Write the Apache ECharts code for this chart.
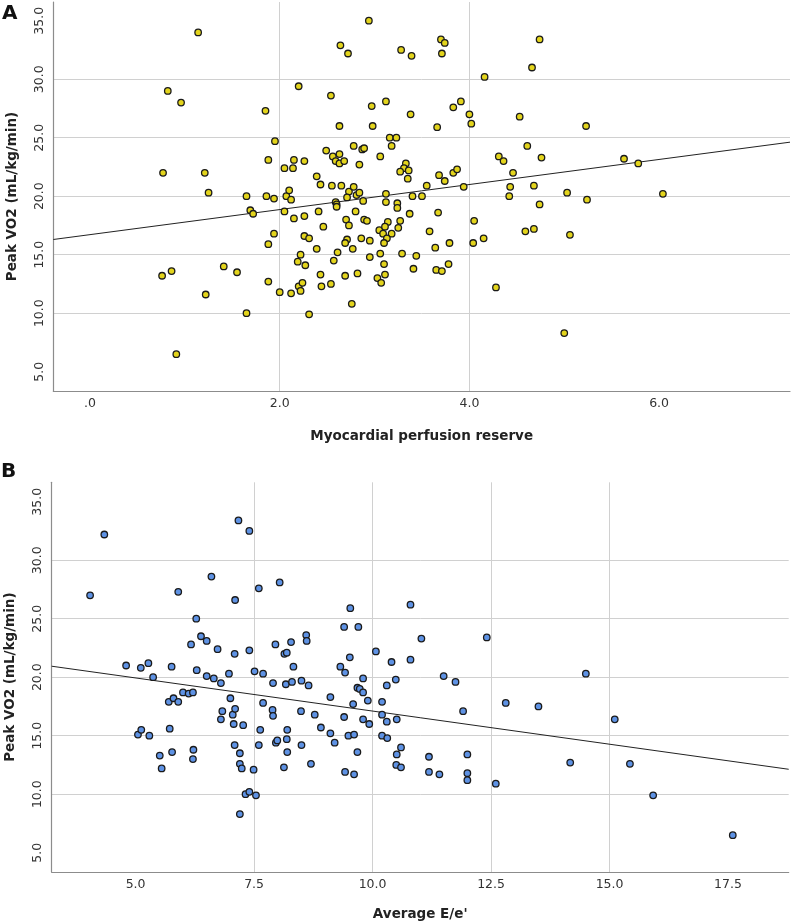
<!DOCTYPE html>
<html><head><meta charset="utf-8">
<script src="https://cdn.jsdelivr.net/npm/echarts@6/dist/echarts.min.js"></script>
<style>html,body{margin:0;padding:0;background:#fff}#c{width:793px;height:924px}</style>
</head><body><div id="c"></div>
<script>
// Panel A: Myocardial perfusion reserve vs Peak VO2
const mprA = [0.77,0.82,0.76,1.14,0.96,1.21,1.25,0.86,1.41,1.55,1.22,0.91,1.65,1.65,1.85,1.95,1.88,1.86,1.94,1.69,1.72,1.94,1.88,1.88,2.05,2.15,2.14,2.26,2.20,2.07,2.10,2.12,2.05,2.15,2.26,2.26,2.31,2.22,2.19,2.27,2.00,2.12,2.20,2.24,2.22,2.31,2.39,2.43,2.55,2.41,2.46,2.39,2.43,2.44,2.54,2.57,2.61,2.49,2.56,2.63,2.59,2.63,2.68,2.54,2.64,2.72,2.63,2.65,2.73,2.71,2.59,2.60,2.60,2.70,2.73,2.71,2.69,2.69,
2.94,3.28,3.39,3.70,3.74,3.71,4.16,2.97,3.12,3.38,3.83,3.91,4.00,4.02,3.66,2.98,3.16,3.23,3.18,2.78,2.87,2.89,3.06,2.84,3.33,3.31,3.36,3.27,3.35,3.68,3.74,3.83,3.87,3.94,4.31,4.36,4.46,4.43,4.42,3.55,3.40,3.50,3.12,3.12,3.24,3.24,2.78,2.81,2.84,2.88,2.80,2.89,2.92,3.37,3.67,4.05,3.14,3.27,3.05,3.11,3.09,3.18,3.25,3.13,3.10,2.86,2.95,2.77,3.58,3.79,3.64,4.04,4.15,2.95,3.06,3.29,3.44,3.10,2.82,3.03,3.07,3.11,3.41,3.65,3.71,3.78,4.28,2.76,
4.74,4.66,5.23,4.76,5.63,5.78,4.68,5.03,5.24,6.04,4.61,4.53,4.74,4.59,4.68,5.06,5.00];
const vo2A = [22.0,29.0,13.2,34.0,28.0,22.0,20.3,13.6,14.0,13.5,11.6,6.5,10.0,20.0,27.3,24.7,23.1,20.0,19.8,18.8,18.5,16.8,15.9,12.7,22.4,23.1,22.4,23.0,29.4,20.0,20.5,19.7,18.7,18.1,18.3,16.6,16.4,15.0,14.4,14.1,11.8,11.7,12.3,12.6,11.9,9.9,21.7,21.0,20.9,18.7,17.4,15.5,13.3,12.3,12.5,14.5,15.2,23.9,23.4,23.6,23.0,22.8,23.0,28.6,32.9,32.2,26.0,20.9,20.4,19.9,19.5,19.3,19.1,18.0,17.5,16.3,16.0,13.2,
35.0,32.5,32.0,33.4,33.1,32.2,30.2,27.7,28.1,27.0,27.6,28.1,27.0,26.2,25.9,26.0,25.0,25.0,24.3,24.3,24.0,24.1,23.4,22.7,22.8,22.4,22.2,22.1,21.5,21.8,21.3,22.0,22.3,20.8,23.4,23.0,22.0,20.8,20.0,20.9,20.0,20.0,20.2,19.5,19.4,19.0,20.8,20.1,20.3,19.6,18.7,18.0,17.9,18.5,18.6,17.9,17.8,17.9,17.1,17.4,16.8,16.8,17.3,16.4,16.0,16.4,16.2,15.5,17.0,16.0,15.6,16.0,16.4,14.8,15.1,15.1,14.9,14.2,13.4,13.0,12.6,13.3,13.8,13.7,13.6,14.2,12.2,10.8,
33.4,31.0,26.0,23.3,23.2,22.8,20.9,20.3,19.7,20.2,24.3,26.8,19.3,17.0,17.2,16.7,8.3];

// Panel B: Average E/e' vs Peak VO2
const eeB = [4.04,4.34,4.80,5.11,5.27,5.37,5.76,5.05,5.12,5.29,5.51,5.55,5.72,5.77,5.70,5.80,5.90,6.00,6.12,6.21,5.90,6.17,6.28,6.38,6.50,6.29,6.50,6.65,6.80,6.73,6.60,6.22,6.21,6.97,7.00,6.83,6.80,7.05,7.10,7.07,7.27,7.09,7.10,7.17,7.40,7.40,7.09,7.20,7.20,7.24,7.49,7.32,7.40,7.54,7.20,7.51,7.69,7.60,7.90,7.69,7.89,7.90,7.63,7.60,7.95,7.96,7.99,
8.04,9.53,9.40,9.70,8.60,8.61,8.28,8.14,8.19,8.33,8.17,8.30,8.50,8.65,9.52,9.32,9.42,9.80,9.68,9.73,9.80,9.11,9.59,9.90,10.07,10.40,10.80,10.80,11.03,12.41,11.50,11.75,10.49,10.30,10.20,8.49,8.78,9.40,9.80,9.93,10.20,10.30,10.51,11.91,12.81,8.91,9.11,9.20,8.20,8.19,8.20,8.13,8.50,8.70,9.49,9.61,9.68,10.20,10.31,9.42,9.61,10.51,10.60,10.50,10.60,11.19,11.19,11.41,12.00,12.00,12.00,12.60,
14.50,13.50,15.11,14.17,15.43,15.92,17.60];
const vo2B = [27.0,32.2,21.0,20.8,21.2,20.0,20.9,15.1,15.5,15.0,13.3,12.2,15.6,13.6,17.9,18.2,17.9,18.7,18.6,18.7,27.3,22.8,25.0,23.5,23.1,20.6,20.1,19.9,19.5,22.4,28.6,13.8,13.0,20.3,18.2,17.1,16.4,16.8,17.3,16.0,15.9,22.0,26.6,33.4,32.5,22.3,14.2,13.5,12.6,12.2,12.1,10.0,10.2,9.9,8.3,20.5,20.3,27.6,19.5,17.8,17.2,16.7,15.5,14.2,22.8,14.4,14.6,
28.1,25.9,24.3,24.3,23.6,23.1,23.0,22.0,22.1,20.9,19.4,19.6,19.7,19.3,21.7,20.9,20.4,19.9,19.1,19.0,18.7,18.3,17.7,18.0,22.2,21.3,26.2,21.5,23.3,23.4,20.1,19.6,19.8,19.3,17.9,17.1,16.8,16.6,16.4,16.0,16.8,16.2,16.4,17.1,17.8,15.7,15.2,14.4,15.5,14.7,13.6,12.3,14.2,12.6,15.0,15.1,13.6,15.0,14.8,11.9,11.7,13.4,14.0,12.5,12.3,13.2,11.9,11.7,13.4,11.8,11.2,10.9,
20.3,17.5,16.4,12.7,12.6,9.9,6.5];

// Tick values
const ticksXA = [0, 2, 4, 6];
const ticksXB = [5, 7.5, 10, 12.5, 15, 17.5];
const ticksY = [5, 10, 15, 20, 25, 30, 35];

// Fit lines (end points)
const fitAx = [-0.387, 7.38], fitAy = [16.3, 24.62];
const fitBx = [3.23, 18.78], fitBy = [20.94, 12.13];

const zip = (a, b) => a.map((v, i) => [v, b[i]]);
const FONT = 'DejaVu Sans';

function xAxisCfg(idx, min, max, ticks, name, gap, fmt) {
  return {
    type: 'value', gridIndex: idx, min: min, max: max,
    name: name, nameLocation: 'middle', nameGap: gap,
    nameTextStyle: { fontFamily: FONT, fontWeight: 'bold', fontSize: 13.5, color: '#222' },
    axisLine: { show: true, onZero: false, lineStyle: { color: '#8c8c8c', width: 1.2 } },
    axisTick: { show: false, customValues: ticks },
    axisLabel: { customValues: ticks, formatter: fmt, margin: 6, fontFamily: FONT, fontSize: 12.5, color: '#333' },
    splitLine: { show: true, showMinLine: false, showMaxLine: false, lineStyle: { color: '#d0d0d0', width: 1 } }
  };
}
function yAxisCfg(idx, min, max) {
  return {
    type: 'value', gridIndex: idx, min: min, max: max,
    name: 'Peak VO2 (mL/kg/min)', nameLocation: 'middle', nameGap: 34, nameRotate: 90,
    nameTextStyle: { fontFamily: FONT, fontWeight: 'bold', fontSize: 13.5, color: '#222' },
    axisLine: { show: true, onZero: false, lineStyle: { color: '#8c8c8c', width: 1.2 } },
    axisTick: { show: false, customValues: ticksY },
    axisLabel: { customValues: ticksY, rotate: 90, formatter: v => v.toFixed(1), margin: 7, fontFamily: FONT, fontSize: 12.5, color: '#333' },
    splitLine: { show: true, showMinLine: false, showMaxLine: false, lineStyle: { color: '#d0d0d0', width: 1 } }
  };
}

const chart = echarts.init(document.getElementById('c'), null, { renderer: 'canvas' });
chart.setOption({
  animation: false,
  backgroundColor: '#ffffff',
  grid: [
    { left: 53.3, top: 2, width: 736.7, height: 389, containLabel: false, outerBoundsMode: 'none' },
    { left: 51.7, top: 482.3, width: 737, height: 389.7, containLabel: false, outerBoundsMode: 'none' }
  ],
  xAxis: [
    xAxisCfg(0, -0.387, 7.38, ticksXA, 'Myocardial perfusion reserve', 38, v => v === 0 ? '.0' : v.toFixed(1)),
    xAxisCfg(1, 3.23, 18.78, ticksXB, "Average E/e'", 35, v => v.toFixed(1))
  ],
  yAxis: [ yAxisCfg(0, 3.35, 36.6), yAxisCfg(1, 3.35, 36.66) ],
  graphic: [
    { type: 'text', left: 2, top: 4, style: { text: 'A', font: 'bold 20px "DejaVu Sans"', fill: '#111' } },
    { type: 'text', left: 1, top: 462, style: { text: 'B', font: 'bold 20px "DejaVu Sans"', fill: '#111' } }
  ],
  series: [
    { type: 'line', xAxisIndex: 0, yAxisIndex: 0, data: zip(fitAx, fitAy), symbol: 'none', silent: true,
      lineStyle: { color: '#222', width: 1 }, z: 2 },
    { type: 'scatter', xAxisIndex: 0, yAxisIndex: 0, data: zip(mprA, vo2A), symbolSize: 6.5,
      itemStyle: { color: '#E3D41C', borderColor: '#1a1a1a', borderWidth: 1.3, opacity: 1 }, z: 3 },
    { type: 'line', xAxisIndex: 1, yAxisIndex: 1, data: zip(fitBx, fitBy), symbol: 'none', silent: true,
      lineStyle: { color: '#222', width: 1 }, z: 2 },
    { type: 'scatter', xAxisIndex: 1, yAxisIndex: 1, data: zip(eeB, vo2B), symbolSize: 6.5,
      itemStyle: { color: '#5E92E4', borderColor: '#1a1a1a', borderWidth: 1.3, opacity: 1 }, z: 3 }
  ]
});
</script></body></html>
